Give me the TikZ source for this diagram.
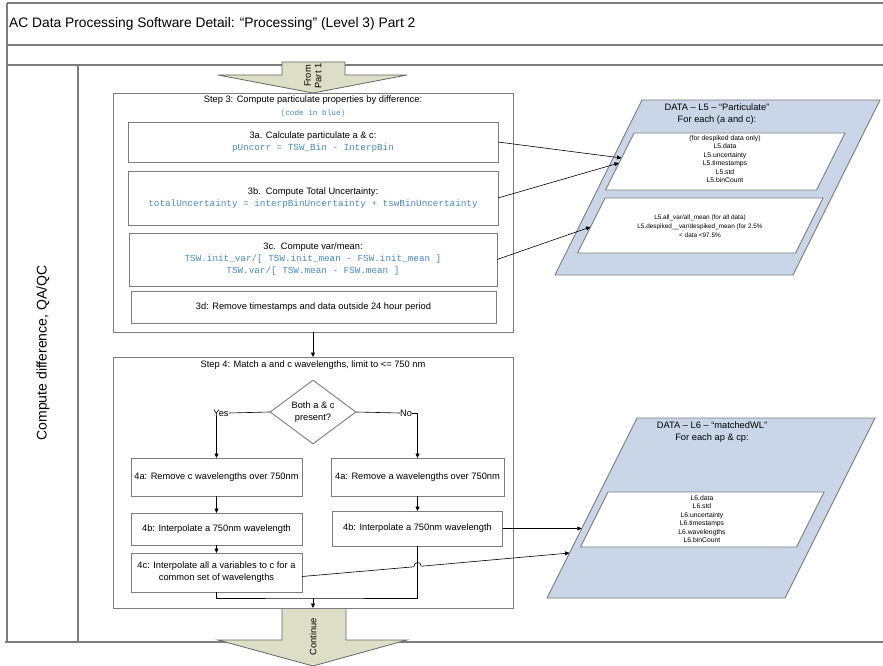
\documentclass[tikz,border=0pt]{standalone}
\usepackage{fontspec}
\setmainfont{Liberation Sans}
\setmonofont{Liberation Mono}
\usetikzlibrary{arrows.meta,shapes.geometric}
\definecolor{arrowfill}{RGB}{220,223,198}
\definecolor{datafill}{RGB}{200,214,232}
\definecolor{codeblue}{RGB}{74,140,200}
\definecolor{edgegray}{RGB}{125,125,125}
\newcommand\bodyfs{\fontsize{9.3}{12}\selectfont}
\newcommand\codefs{\fontsize{9.3}{13}\selectfont\ttfamily\color{codeblue}}
\newcommand\tinyfs{\fontsize{6.8}{8.5}\selectfont}
\newcommand\smallfs{\fontsize{6.4}{9}\selectfont}
\tikzset{
  frameline/.style={draw=edgegray, line width=1.3pt},
  panel/.style={draw=edgegray, line width=0.9pt, fill=white, inner sep=0pt, outer sep=0pt},
  sub/.style={panel, align=center, font=\bodyfs},
  conn/.style={draw=black, line width=0.6pt},
  arr/.style={conn, -{Triangle[length=4.5pt,width=4pt]}},
  bigarrow/.style={draw=black!60, line width=0.8pt, fill=arrowfill},
  datashape/.style={draw=edgegray, line width=0.9pt, fill=datafill},
  datainner/.style={draw=edgegray, line width=0.9pt, fill=white},
  lbl/.style={font=\bodyfs, align=center, inner sep=0pt},
}
\begin{document}
\begin{tikzpicture}[x=1pt,y=-1pt]
\useasboundingbox (0,0) rectangle (883,666);
\fill[white] (0,0) rectangle (883,666);

% swimlane frame
\draw[frameline] (7,3) -- (883,3);
\draw[frameline] (7,45) -- (883,45);
\draw[frameline] (7,65) -- (883,65);
\draw[frameline] (7,3) -- (7,642);
\draw[frameline] (78,65) -- (78,642);
\draw[frameline] (5,642) -- (883,642);

\node[anchor=base west, inner sep=0pt, font=\fontsize{13.8}{16}\selectfont] (title) at (9,28)
  {AC Data Processing Software Detail: “Processing” (Level 3) Part 2};
\node[rotate=90, inner sep=0pt, font=\fontsize{14}{16}\selectfont] (lane) at (43,353)
  {Compute difference, QA/QC};

% big arrows
\draw[bigarrow] (282,62) -- (345,62) -- (345,75) -- (407,75) -- (313,93) -- (218,75) -- (282,75) -- cycle;
\node[rotate=90, lbl, font=\fontsize{9.3}{10.5}\selectfont] (from) at (313,76) {From\\Part 1};
\draw[bigarrow] (282,608) -- (346,608) -- (346,640) -- (407,640) -- (313,666) -- (218,640) -- (282,640) -- cycle;
\node[rotate=90, lbl] (cont) at (313,637) {Continue};

% Step 3
\node[panel, minimum width=400pt, minimum height=239pt] (s3) at (313,212.5) {};
\node[lbl] (s3t) at (313,100) {Step 3: Compute particulate properties by difference:};
\node[lbl, font=\fontsize{7.7}{9}\selectfont\ttfamily\color{codeblue}] (s3c) at (313,113.5) {(code in blue)};
\node[sub, minimum width=370pt, minimum height=40pt] (a3) at (313,142)
  {3a. Calculate particulate a \& c:\\\codefs pUncorr = TSW\_Bin - InterpBin};
\node[sub, minimum width=370pt, minimum height=54pt] (b3) at (313,198)
  {3b.\ \ Compute Total Uncertainty:\\\codefs totalUncertainty = interpBinUncertainty + tswBinUncertainty};
\node[sub, minimum width=368pt, minimum height=53pt] (c3) at (313,259.5)
  {3c.\ \ Compute var/mean:\\\codefs TSW.init\_var/[ TSW.init\_mean - FSW.init\_mean ]\\\codefs TSW.var/[ TSW.mean - FSW.mean ]};
\node[sub, minimum width=365pt, minimum height=32pt] (d3) at (313.5,307)
  {3d: Remove timestamps and data outside 24 hour period};

% Step 4
\node[panel, minimum width=400pt, minimum height=251pt] (s4) at (313,482.5) {};
\node[lbl] (s4t) at (313,365) {Step 4: Match a and c wavelengths, limit to <= 750 nm};
\node[diamond, draw=edgegray, line width=0.9pt, fill=white, inner sep=0pt, aspect=1.3,
      minimum width=86pt, minimum height=64pt, align=center, font=\bodyfs] (dia) at (313,412)
  {Both a \& c\\present?};
\node[sub, minimum width=171pt, minimum height=38pt] (a4l) at (216.5,477) {4a: Remove c wavelengths over 750nm};
\node[sub, minimum width=173pt, minimum height=38pt] (a4r) at (417.5,477) {4a: Remove a wavelengths over 750nm};
\node[sub, minimum width=171pt, minimum height=32pt] (b4l) at (216.5,529) {4b: Interpolate a 750nm wavelength};
\node[sub, minimum width=170pt, minimum height=35pt] (b4r) at (417.5,528.5) {4b: Interpolate a 750nm wavelength};
\node[sub, minimum width=171pt, minimum height=39pt] (c4) at (216.5,572.5)
  {4c: Interpolate all a variables to c for a\\common set of wavelengths};
\node[lbl] (yes) at (221,413) {Yes};
\node[lbl] (no) at (406,413) {No};

% DATA L5
\draw[datashape] (642,100) -- (880,100) -- (793,275) -- (555,275) -- cycle;
\draw[datainner] (634,133) -- (845,133) -- (816.5,190) -- (605.5,190) -- cycle;
\draw[datainner] (605,198) -- (823,198) -- (795.5,253) -- (577.5,253) -- cycle;
\node[lbl] (l5t) at (717,114) {DATA – L5 – “Particulate”\\For each (a and c):};
\node[lbl, font=\tinyfs] (l5a) at (725,159)
  {(for despiked data only)\\L5.data\\L5.uncertainty\\L5.timestamps\\L5.std\\L5.binCount};
\node[lbl, font=\smallfs] (l5b) at (700,226)
  {L5.all\_var/all\_mean (for all data)\\L5.despiked\_\_var/despiked\_mean (for 2.5\%\\< data <97.5\%};
\coordinate (l5in1) at (621.5,158);
\coordinate (l5in2) at (619,163);
\coordinate (l5in3) at (590.5,227);

% DATA L6
\draw[datashape] (637,418) -- (875,418) -- (785,598) -- (547,598) -- cycle;
\draw[datainner] (608,492) -- (824,492) -- (796.5,547) -- (580.5,547) -- cycle;
\node[lbl] (l6t) at (712,432) {DATA – L6 – “matchedWL”\\For each ap \& cp:};
\node[lbl, font=\tinyfs] (l6a) at (702,519)
  {L6.data\\L6.std\\L6.uncertainty\\L6.timestamps\\L6.wavelengths\\L6.binCount};
\coordinate (l6in1) at (581.75,528.5);
\coordinate (l6in2) at (569.5,553);

% connectors
\draw[arr] (a3.east) -- (l5in1);
\draw[arr] (b3.east) -- (l5in2);
\draw[arr] (c3.east) -- (l5in3);
\draw[arr] (s3.south) -- (s4.north);
\draw[conn] (dia.west) -- (yes.east);
\draw[arr] (yes.south -| a4l.north) -- (a4l.north);
\draw[conn] (dia.east) -- (no.west);
\draw[arr] (no.east) -| (a4r.north);
\draw[arr] (a4l.south) -- (b4l.north);
\draw[arr] (b4l.south) -- (c4.north);
\draw[arr] (a4r.south) -- (b4r.north);
\coordinate (merge) at (313,598);
\draw[conn] (c4.south) |- (merge) -| (b4r.south);
\draw[arr] (merge) -- (s4.south);
\draw[arr] (b4r.east) -- (l6in1);
\draw[arr] ([yshift=-4pt]c4.east) -- (413.8,566.8) .. controls (413.8,561.5) and (421.2,560.8) .. (421.2,566.2) -- (l6in2);
\end{tikzpicture}
\end{document}
